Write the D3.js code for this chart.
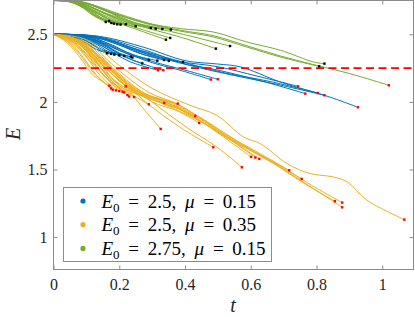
<!DOCTYPE html>
<html>
<head>
<meta charset="utf-8">
<script src="https://cdn.jsdelivr.net/npm/d3@7"></script>
<style>
  body { margin: 0; background: #fff; }
  svg { display: block; }
  .tick text { font-family: "Liberation Serif", serif; font-size: 16px; fill: #262626; }
</style>
</head>
<body>
<script>
// trajectories [t, E]; each run ends with a dot
const blueRuns = [
  [[0,2.5],[0.04,2.495],[0.08,2.46],[0.12,2.4],[0.163,2.36]],
  [[0,2.5],[0.05,2.49],[0.09,2.45],[0.13,2.39],[0.175,2.355]],
  [[0,2.5],[0.05,2.492],[0.1,2.45],[0.14,2.39],[0.185,2.35]],
  [[0,2.5],[0.06,2.49],[0.11,2.44],[0.15,2.385],[0.2,2.345]],
  [[0,2.5],[0.06,2.492],[0.12,2.44],[0.17,2.37],[0.215,2.34]],
  [[0,2.5],[0.07,2.49],[0.13,2.44],[0.18,2.37],[0.235,2.335]],
  [[0,2.5],[0.07,2.492],[0.13,2.445],[0.19,2.37],[0.24,2.328]],
  [[0,2.5],[0.08,2.49],[0.15,2.43],[0.21,2.34],[0.27,2.285]],
  [[0,2.5],[0.08,2.492],[0.15,2.44],[0.22,2.36],[0.29,2.31]],
  [[0,2.5],[0.09,2.49],[0.17,2.43],[0.24,2.35],[0.316,2.305]],
  [[0,2.5],[0.1,2.49],[0.18,2.44],[0.26,2.36],[0.336,2.31]],
  [[0,2.5],[0.1,2.492],[0.19,2.44],[0.27,2.355],[0.351,2.303]],
  [[0,2.5],[0.11,2.49],[0.2,2.435],[0.3,2.34],[0.394,2.295]],
  [[0,2.5],[0.08,2.485],[0.15,2.41],[0.23,2.3],[0.318,2.234]],
  [[0,2.5],[0.09,2.487],[0.16,2.415],[0.24,2.31],[0.334,2.234]],
  [[0,2.5],[0.1,2.48],[0.2,2.38],[0.3,2.29],[0.385,2.234],[0.479,2.165]],
  [[0,2.5],[0.11,2.485],[0.2,2.39],[0.3,2.3],[0.4,2.235],[0.5,2.167]],
  [[0,2.5],[0.12,2.48],[0.25,2.38],[0.38,2.3],[0.5,2.26],[0.62,2.19],[0.744,2.115]],
  [[0,2.5],[0.12,2.485],[0.25,2.39],[0.38,2.29],[0.5,2.235],[0.64,2.15],[0.766,2.061]],
  [[0,2.5],[0.13,2.48],[0.26,2.385],[0.4,2.29],[0.52,2.215],[0.66,2.15],[0.804,2.066]],
  [[0,2.5],[0.13,2.485],[0.27,2.39],[0.4,2.28],[0.54,2.2],[0.68,2.13],[0.824,2.049]],
  [[0,2.5],[0.14,2.485],[0.28,2.4],[0.4,2.305],[0.5,2.28],[0.57,2.258],[0.69,2.147],[0.84,2.036],[0.926,1.96]]
];

const yellowRuns = [
  [[0,2.5],[0.04,2.44],[0.08,2.33],[0.12,2.2],[0.17,2.12]],
  [[0,2.5],[0.04,2.45],[0.08,2.35],[0.12,2.22],[0.175,2.1]],
  [[0,2.5],[0.05,2.44],[0.09,2.33],[0.13,2.2],[0.18,2.09]],
  [[0,2.5],[0.05,2.45],[0.1,2.33],[0.14,2.2],[0.19,2.085]],
  [[0,2.5],[0.05,2.46],[0.1,2.35],[0.15,2.2],[0.2,2.08]],
  [[0,2.5],[0.06,2.45],[0.11,2.33],[0.16,2.18],[0.21,2.075]],
  [[0,2.5],[0.06,2.46],[0.11,2.35],[0.16,2.2],[0.215,2.07]],
  [[0,2.5],[0.06,2.46],[0.12,2.33],[0.17,2.17],[0.225,2.05]],
  [[0,2.5],[0.07,2.45],[0.12,2.32],[0.18,2.15],[0.23,2.04]],
  [[0,2.5],[0.07,2.46],[0.13,2.33],[0.18,2.17],[0.245,2.036]],
  [[0,2.5],[0.06,2.46],[0.12,2.37],[0.17,2.25],[0.22,2.115]],
  [[0,2.5],[0.06,2.44],[0.12,2.28],[0.18,2.14],[0.24,2.05],[0.29,1.982]],
  [[0,2.5],[0.06,2.46],[0.12,2.35],[0.18,2.2],[0.22,2.11],[0.27,1.96],[0.326,1.8]],
  [[0,2.5],[0.07,2.45],[0.14,2.28],[0.2,2.12],[0.26,2.05],[0.337,1.992]],
  [[0,2.5],[0.07,2.46],[0.14,2.3],[0.21,2.14],[0.29,2.04],[0.378,1.987]],
  [[0,2.5],[0.08,2.44],[0.15,2.27],[0.22,2.12],[0.3,2.03],[0.37,1.97],[0.431,1.896]],
  [[0,2.5],[0.08,2.45],[0.16,2.28],[0.23,2.12],[0.3,2.0],[0.38,1.93],[0.443,1.844]],
  [[0,2.5],[0.06,2.46],[0.12,2.37],[0.2,2.18],[0.28,2.0],[0.38,1.82],[0.486,1.664]],
  [[0,2.5],[0.06,2.46],[0.13,2.36],[0.21,2.17],[0.3,2.0],[0.4,1.82],[0.5,1.66],[0.573,1.516]],
  [[0,2.5],[0.07,2.44],[0.14,2.26],[0.22,2.1],[0.3,2.02],[0.4,1.93],[0.5,1.77],[0.601,1.593]],
  [[0,2.5],[0.07,2.45],[0.15,2.27],[0.23,2.1],[0.32,2.0],[0.41,1.9],[0.5,1.78],[0.614,1.588]],
  [[0,2.5],[0.08,2.44],[0.16,2.25],[0.24,2.08],[0.33,1.99],[0.42,1.91],[0.52,1.75],[0.626,1.578]],
  [[0,2.5],[0.08,2.45],[0.16,2.27],[0.25,2.09],[0.34,2.0],[0.43,1.88],[0.53,1.74],[0.62,1.62],[0.717,1.494]],
  [[0,2.5],[0.09,2.43],[0.17,2.24],[0.26,2.07],[0.35,1.99],[0.44,1.87],[0.53,1.73],[0.64,1.59],[0.755,1.43]],
  [[0,2.5],[0.09,2.44],[0.18,2.24],[0.27,2.07],[0.36,1.99],[0.45,1.88],[0.55,1.72],[0.66,1.56],[0.76,1.4],[0.856,1.265]],
  [[0,2.5],[0.1,2.43],[0.19,2.23],[0.28,2.06],[0.37,1.99],[0.46,1.86],[0.56,1.71],[0.67,1.56],[0.78,1.39],[0.878,1.255]],
  [[0,2.5],[0.1,2.44],[0.2,2.23],[0.29,2.07],[0.38,1.98],[0.47,1.84],[0.57,1.68],[0.68,1.53],[0.79,1.36],[0.878,1.22]],
  [[0,2.5],[0.1,2.46],[0.2,2.27],[0.3,2.1],[0.415,1.975],[0.497,1.9],[0.578,1.74],[0.63,1.69],[0.71,1.544],[0.78,1.47],[0.85,1.445],[0.893,1.408],[0.954,1.272],[1.067,1.129]]
];

const greenRuns = [
  [[0,2.75],[0.04,2.745],[0.08,2.71],[0.12,2.64],[0.159,2.591]],
  [[0,2.75],[0.04,2.745],[0.085,2.71],[0.125,2.645],[0.169,2.598]],
  [[0,2.75],[0.045,2.745],[0.09,2.7],[0.13,2.63],[0.176,2.584]],
  [[0,2.75],[0.05,2.74],[0.095,2.69],[0.14,2.62],[0.184,2.579]],
  [[0,2.75],[0.05,2.742],[0.1,2.69],[0.15,2.615],[0.194,2.574]],
  [[0,2.75],[0.055,2.74],[0.105,2.69],[0.155,2.61],[0.204,2.572]],
  [[0,2.75],[0.06,2.74],[0.11,2.69],[0.165,2.61],[0.22,2.574]],
  [[0,2.75],[0.06,2.742],[0.12,2.68],[0.18,2.6],[0.25,2.559]],
  [[0,2.75],[0.07,2.74],[0.14,2.67],[0.21,2.59],[0.296,2.547]],
  [[0,2.75],[0.07,2.742],[0.14,2.675],[0.22,2.59],[0.311,2.542]],
  [[0,2.75],[0.08,2.74],[0.16,2.67],[0.24,2.585],[0.331,2.539]],
  [[0,2.75],[0.08,2.742],[0.16,2.675],[0.25,2.585],[0.357,2.535]],
  [[0,2.75],[0.06,2.74],[0.12,2.67],[0.18,2.6],[0.26,2.53],[0.342,2.46]],
  [[0,2.75],[0.065,2.74],[0.13,2.67],[0.19,2.6],[0.27,2.535],[0.355,2.473]],
  [[0,2.75],[0.08,2.73],[0.16,2.65],[0.25,2.57],[0.385,2.48],[0.494,2.394]],
  [[0,2.75],[0.08,2.735],[0.16,2.655],[0.26,2.575],[0.385,2.505],[0.537,2.413]],
  [[0,2.75],[0.09,2.74],[0.18,2.66],[0.28,2.585],[0.385,2.542],[0.486,2.517],[0.588,2.443],[0.69,2.382],[0.791,2.295],[0.824,2.283]],
  [[0,2.75],[0.09,2.735],[0.18,2.655],[0.28,2.58],[0.385,2.524],[0.486,2.48],[0.588,2.406],[0.69,2.332],[0.808,2.263]],
  [[0,2.75],[0.1,2.73],[0.2,2.65],[0.3,2.575],[0.385,2.53],[0.486,2.49],[0.588,2.415],[0.69,2.34],[0.8,2.27],[0.9,2.21],[1.02,2.123]]
];

const threshold = 2.25;
const legendLabels = [
  {E: '2.5', mu: '0.15'},
  {E: '2.5', mu: '0.35'},
  {E: '2.75', mu: '0.15'}
];
const colors = ['#0072BD', '#EDB120', '#77AC30'];
const xTicks = [0, 0.2, 0.4, 0.6, 0.8, 1];
const yTicks = [1, 1.5, 2, 2.5];

const width = 415, height = 317;
const margin = {left: 53.5, right: 1.5, top: 0.5, bottom: 47.5};

const x = d3.scaleLinear().domain([0, 1.095]).range([margin.left, width - margin.right]);
const y = d3.scaleLinear().domain([0.76, 2.75]).range([height - margin.bottom, margin.top]);

const svg = d3.select('body').append('svg')
  .attr('width', width)
  .attr('height', height);

const line = d3.line()
  .x(d => x(d[0]))
  .y(d => y(d[1]))
  .curve(d3.curveCatmullRom.alpha(0.5));

const groups = [blueRuns, yellowRuns, greenRuns];

const plot = svg.append('g');
groups.forEach((runs, gi) => {
  plot.append('g').selectAll('path')
    .data(runs)
    .enter().append('path')
    .attr('d', line)
    .attr('fill', 'none')
    .attr('stroke', colors[gi])
    .attr('stroke-width', 1);
});

// threshold
svg.append('line')
  .attr('x1', x(0)).attr('x2', x(1.095))
  .attr('y1', y(threshold)).attr('y2', y(threshold))
  .attr('stroke', '#FF0000')
  .attr('stroke-width', 1.6)
  .attr('stroke-dasharray', '8,4.5');

// end points
const ends = [].concat(...groups.map(runs => runs.map(r => r[r.length - 1])));
svg.append('g').selectAll('rect')
  .data(ends)
  .enter().append('rect')
  .attr('x', d => x(d[0]) - 1.2)
  .attr('y', d => y(d[1]) - 1.2)
  .attr('width', 2.4)
  .attr('height', 2.4)
  .attr('fill', d => d[1] < threshold ? '#FF0000' : '#000');

// axes with inward ticks
const axisColor = '#8c8c8c';
const xAxis = svg.append('g')
  .attr('transform', `translate(0,${y.range()[0]})`)
  .call(d3.axisBottom(x).tickValues(xTicks).tickSize(-4).tickPadding(9).tickFormat(d3.format('')));
const yAxis = svg.append('g')
  .attr('transform', `translate(${x.range()[0]},0)`)
  .call(d3.axisLeft(y).tickValues(yTicks).tickSize(-4).tickPadding(6).tickFormat(d3.format('')));
const xTop = svg.append('g')
  .attr('transform', `translate(0,${y.range()[1]})`)
  .call(d3.axisTop(x).tickValues(xTicks).tickSize(-4).tickFormat(''));
const yRight = svg.append('g')
  .attr('transform', `translate(${x.range()[1]},0)`)
  .call(d3.axisRight(y).tickValues(yTicks).tickSize(-4).tickFormat(''));
[xAxis, yAxis, xTop, yRight].forEach(a => {
  a.select('.domain').remove();
  a.selectAll('.tick line').attr('stroke', axisColor);
});

svg.append('rect')
  .attr('x', x.range()[0])
  .attr('y', y.range()[1])
  .attr('width', x.range()[1] - x.range()[0])
  .attr('height', y.range()[0] - y.range()[1])
  .attr('fill', 'none')
  .attr('stroke', axisColor)
  .attr('stroke-width', 1);

// axis labels
svg.append('text')
  .attr('x', 233).attr('y', 312)
  .attr('text-anchor', 'middle')
  .style('font-family', '"Liberation Serif", serif')
  .style('font-style', 'italic')
  .style('font-size', '20px')
  .attr('fill', '#262626')
  .text('t');
svg.append('text')
  .attr('transform', 'translate(20,134) rotate(-90)')
  .attr('text-anchor', 'middle')
  .style('font-family', '"Liberation Serif", serif')
  .style('font-style', 'italic')
  .style('font-size', '20px')
  .attr('fill', '#262626')
  .text('E');

// legend
const legend = svg.append('g').attr('transform', 'translate(63.5,187.5)');
legend.append('rect')
  .attr('width', 208)
  .attr('height', 74)
  .attr('fill', '#fff')
  .attr('stroke', axisColor);
const rows = legend.selectAll('g.row')
  .data(legendLabels)
  .enter().append('g')
  .attr('class', 'row')
  .attr('transform', (d, i) => `translate(0,${13.5 + i * 23.7})`);
rows.append('circle')
  .attr('cx', 19.5)
  .attr('cy', 0)
  .attr('r', 2.6)
  .attr('fill', (d, i) => colors[i]);
const txt = rows.append('text')
  .attr('x', 38)
  .attr('y', 6.5)
  .style('font-family', '"Liberation Serif", serif')
  .style('font-size', '19px')
  .style('word-spacing', '4px')
  .attr('fill', '#000');
txt.append('tspan').style('font-style', 'italic').text('E');
txt.append('tspan').attr('dy', 4).style('font-size', '13px').text('0');
txt.append('tspan').attr('dy', -4).text(d => ' = ' + d.E + ', ');
txt.append('tspan').style('font-style', 'italic').text('μ');
txt.append('tspan').text(d => ' = ' + d.mu);
</script>
</body>
</html>
